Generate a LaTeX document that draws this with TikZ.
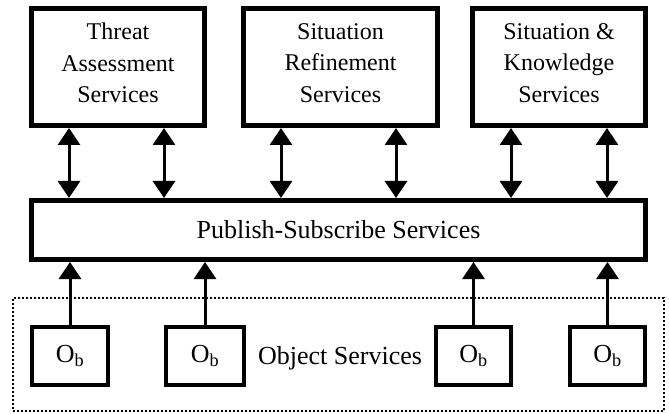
\documentclass[tikz,border=0pt]{standalone}
\usepackage{fontspec}
\setmainfont{Liberation Serif}
\usetikzlibrary{arrows.meta}
\begin{document}
\begin{tikzpicture}[x=1pt,y=-1pt,
  svcbox/.style={draw, line width=5pt, minimum width=173pt, minimum height=117pt,
    align=center, inner sep=0pt, text depth=8pt, font=\fontsize{24}{31.5}\selectfont},
  obbox/.style={draw, line width=4pt, minimum width=76pt, minimum height=58pt,
    inner sep=0pt, font=\fontsize{26}{31}\selectfont},
  link/.style={line width=3pt, {Triangle[length=17pt,width=22pt]}-{Triangle[length=17pt,width=22pt]}},
  feed/.style={line width=3pt, -{Triangle[length=17pt,width=22pt]}},
  region/.style={draw, line width=2pt, dotted, minimum width=651pt, minimum height=113pt, inner sep=0pt}]
\useasboundingbox (0,0) rectangle (669,414);

% upper service layer
\node[svcbox] (tas) at (118,67) {Threat\\Assessment\\Services};
\node[svcbox, minimum width=194pt] (srs) at (340.5,67) {Situation\\Refinement\\Services};
\node[svcbox] (sks) at (559,67) {Situation \&\\Knowledge\\Services};

% publish-subscribe bus
\node[draw, line width=5pt, minimum width=614pt, minimum height=59pt, inner sep=0pt,
  font=\fontsize{26}{31}\selectfont] (pub) at (338.5,230) {Publish-Subscribe Services};

% object service region
\node[region] (objreg) at (338.5,354.5) {};
\node[font=\fontsize{26}{31}\selectfont] (objtxt) at (340,358) {Object Services};
\node[obbox] (ob1) at (70,356) {O\textsubscript{b}};
\node[obbox, minimum width=78pt] (ob2) at (205,356) {O\textsubscript{b}};
\node[obbox, minimum width=75pt] (ob3) at (473.5,356) {O\textsubscript{b}};
\node[obbox, minimum width=75pt] (ob4) at (607.5,356) {O\textsubscript{b}};

% bidirectional links between services and the bus
\draw[link] ([xshift=-49pt]tas.south) -- ([xshift=-49pt]tas.south |- pub.north);
\draw[link] ([xshift=46pt]tas.south) -- ([xshift=46pt]tas.south |- pub.north);
\draw[link] ([xshift=-59.5pt]srs.south) -- ([xshift=-59.5pt]srs.south |- pub.north);
\draw[link] ([xshift=55.5pt]srs.south) -- ([xshift=55.5pt]srs.south |- pub.north);
\draw[link] ([xshift=-48pt]sks.south) -- ([xshift=-48pt]sks.south |- pub.north);
\draw[link] ([xshift=48pt]sks.south) -- ([xshift=48pt]sks.south |- pub.north);

% objects publishing to the bus
\draw[feed] (ob1.north) -- (ob1.north |- pub.south);
\draw[feed] (ob2.north) -- (ob2.north |- pub.south);
\draw[feed] (ob3.north) -- (ob3.north |- pub.south);
\draw[feed] (ob4.north) -- (ob4.north |- pub.south);
\end{tikzpicture}
\end{document}
